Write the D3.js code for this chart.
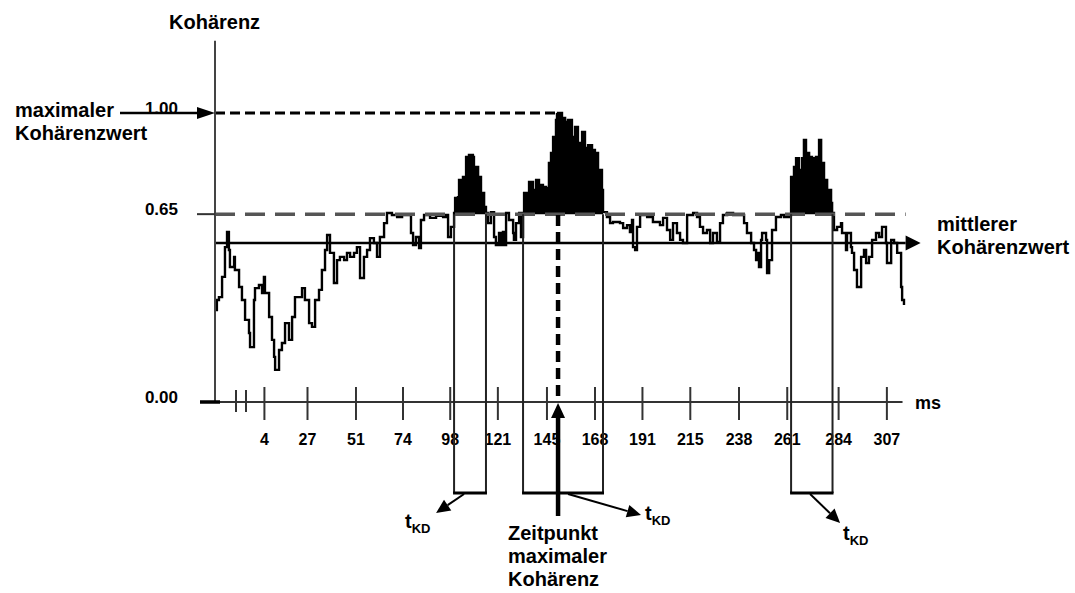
<!DOCTYPE html>
<html><head><meta charset="utf-8">
<script src="https://cdn.jsdelivr.net/npm/d3@7"></script>
<style>
body{margin:0;background:#fff;}
svg text{font-family:"Liberation Sans",Arial,sans-serif;font-weight:bold;fill:#000;}
</style></head><body>
<svg id="c" width="1075" height="593"></svg>
<script>
// ---- data ----
const timeMs = [-17.4,-16.5,-15.5,-14.0,-12.6,-11.6,-10.7,-10.2,-8.2,-7.8,-5.8,-4.4,-2.9,-1.0,-0.5,1.4,1.9,3.8,5.3,6.2,
6.7,8.7,10.1,11.1,11.6,13.5,14.9,16.4,18.3,19.8,21.2,23.1,24.6,26.0,28.0,29.4,30.9,32.8,34.2,35.7,
36.7,38.1,40.0,41.5,42.9,44.9,46.3,47.8,49.7,51.1,52.6,54.5,56.0,57.4,59.3,60.8,62.2,64.2,65.6,68.0,
70.5,72.9,75.3,77.2,78.2,79.6,81.1,82.0,83.5,86.4,89.3,92.7,94.1,95.1,96.5,98.0,
98.5,99.9,100.4,102.3,103.8,105.2,107.1,107.6,109.6,111.0,112.5,113.4,114.4,115.8,117.3,118.2,119.7,120.7,121.6,122.1,
123.1,124.5,126.5,126.9,127.9,129.4,130.3,131.3,131.8,134.2,136.1,137.6,139.0,140.9,142.4,143.8,144.8,145.8,147.2,148.2,
150.1,151.6,153.0,154.9,156.4,157.8,159.8,161.2,162.7,164.6,166.0,167.5,169.4,169.9,
171.8,173.3,174.7,178.1,179.6,181.5,182.9,183.9,184.4,185.4,186.3,187.8,191.2,194.0,197.4,198.9,200.8,202.3,203.7,205.6,
207.1,208.5,210.5,213.4,215.3,216.7,218.2,220.1,221.6,223.0,224.9,226.4,227.8,229.8,232.7,234.6,238.0,239.4,241.4,242.8,
243.8,244.3,245.2,246.2,246.7,248.6,249.1,250.1,251.5,253.4,255.8,257.3,259.7,
260.7,262.1,263.1,264.5,266.0,266.9,267.9,269.4,270.8,272.7,274.2,275.2,276.6,278.1,280.0,280.5,
281.4,282.9,284.8,285.3,287.2,287.7,289.6,290.1,291.1,292.5,294.5,295.9,296.9,298.3,299.8,301.7,303.2,304.6,306.5,307.0,
309.0,310.4,311.9,313.8,314.3,315.2];
const coherence = [0.318,0.353,0.363,0.433,0.536,0.588,0.526,0.467,0.502,0.457,0.398,0.353,0.284,0.239,0.190,0.353,0.394,0.405,0.377,0.433,
0.377,0.294,0.215,0.156,0.111,0.180,0.204,0.273,0.215,0.294,0.363,0.363,0.394,0.353,0.273,0.260,0.353,0.388,0.457,0.526,
0.578,0.516,0.412,0.491,0.502,0.491,0.516,0.502,0.516,0.536,0.429,0.502,0.526,0.567,0.550,0.502,0.571,0.619,0.654,0.647,
0.640,0.647,0.647,0.585,0.543,0.571,0.533,0.630,0.647,0.637,0.644,0.640,0.647,0.571,0.606,0.654,
0.706,0.709,0.768,0.779,0.848,0.855,0.848,0.813,0.779,0.723,0.675,0.654,0.619,0.657,0.571,0.543,0.585,0.543,0.588,0.543,
0.654,0.630,0.585,0.561,0.619,0.654,0.571,0.654,0.723,0.761,0.734,0.768,0.751,0.744,0.740,0.827,0.862,0.917,0.976,1.000,
0.983,0.969,0.976,0.917,0.952,0.896,0.934,0.879,0.889,0.872,0.862,0.803,0.734,0.657,
0.640,0.619,0.623,0.619,0.602,0.612,0.588,0.630,0.536,0.526,0.606,0.647,0.640,0.623,0.612,0.637,0.595,0.561,0.619,0.585,
0.561,0.550,0.647,0.654,0.640,0.606,0.585,0.595,0.550,0.585,0.554,0.619,0.647,0.654,0.647,0.647,0.619,0.585,0.550,0.526,
0.491,0.516,0.467,0.561,0.585,0.561,0.446,0.491,0.595,0.640,0.647,0.640,0.647,
0.779,0.813,0.844,0.803,0.844,0.907,0.862,0.848,0.844,0.848,0.907,0.827,0.768,0.734,0.689,0.654,
0.595,0.606,0.619,0.585,0.526,0.585,0.536,0.516,0.457,0.398,0.502,0.526,0.481,0.502,0.561,0.585,0.571,0.606,0.550,0.481,
0.561,0.550,0.516,0.398,0.353,0.336];
const tickMs = [6.2,27,50.4,73.1,95.9,118.9,142.6,165.8,188.7,211.8,235.3,258.6,283.4,306.7];
const tickLabels = ["4","27","51","74","98","121","145","168","191","215","238","261","284","307"];
const yTickValues = [1.0, 0.65, 0.0];
const yTickLabels = ["1.00","0.65","0.00"];
const threshold = 0.65;
const meanCoherence = 0.55;
const maxTime = 148.2, maxValue = 1.0;
const kdStart = [98.0, 131.3, 260.7];
const kdEnd = [113.4, 169.9, 280.7];

// ---- layout ----
const svg = d3.select("#c");
const x = d3.scaleLinear().domain([27, 307]).range([307, 887]);
const y = d3.scaleLinear().domain([0, 1]).range([402, 113]);
const axisX = 215, xEnd = x(316), kdBottom = 493;
const data = timeMs.map((t, i) => ({t, v: coherence[i]}));

function arrow(x1, y1, x2, y2, len, half, w) {
  const a = Math.atan2(y2 - y1, x2 - x1);
  const bx = x2 - len * Math.cos(a), by = y2 - len * Math.sin(a);
  svg.append("line").attr("x1", x1).attr("y1", y1).attr("x2", bx).attr("y2", by)
    .attr("stroke", "#000").attr("stroke-width", w);
  const px = -Math.sin(a) * half, py = Math.cos(a) * half;
  svg.append("path").attr("d", `M${x2},${y2}L${bx + px},${by + py}L${bx - px},${by - py}Z`).attr("fill", "#000");
}

// filled regions above threshold
const area = d3.area().x(d => x(d.t)).y0(y(threshold)).y1(d => y(Math.max(d.v, threshold))).curve(d3.curveStepAfter);
kdStart.forEach((s, k) => {
  const seg = data.filter(d => d.t >= s && d.t <= kdEnd[k]);
  svg.append("path").datum(seg).attr("d", area).attr("fill", "#000");
});

// curve
const line = d3.line().x(d => x(d.t)).y(d => y(d.v)).curve(d3.curveStepAfter);
svg.append("path").datum(data).attr("d", line).attr("fill", "none")
  .attr("stroke", "#000").attr("stroke-width", 2.4).attr("stroke-linejoin", "miter");

// threshold dashed line
svg.append("line").attr("x1", axisX).attr("x2", xEnd).attr("y1", y(threshold)).attr("y2", y(threshold))
  .attr("stroke", "#555").attr("stroke-width", 3.5).attr("stroke-dasharray", "20,10");

// mean line with arrow
arrow(axisX, y(meanCoherence), xEnd + 15, y(meanCoherence), 15, 7.5, 2.5);

// max dashed lines
svg.append("line").attr("x1", axisX).attr("x2", x(maxTime)).attr("y1", y(maxValue)).attr("y2", y(maxValue))
  .attr("stroke", "#000").attr("stroke-width", 3).attr("stroke-dasharray", "10,5");
svg.append("line").attr("x1", x(maxTime)).attr("x2", x(maxTime)).attr("y1", y(maxValue)).attr("y2", y(0) - 3)
  .attr("stroke", "#000").attr("stroke-width", 4.5).attr("stroke-dasharray", "11,6");

// y axis
svg.append("line").attr("x1", axisX).attr("x2", axisX).attr("y1", y(0)).attr("y2", y(1.25))
  .attr("stroke", "#444").attr("stroke-width", 2);
svg.append("line").attr("x1", 197).attr("x2", axisX).attr("y1", y(threshold)).attr("y2", y(threshold))
  .attr("stroke", "#333").attr("stroke-width", 2);
yTickValues.forEach((v, i) => {
  svg.append("text").attr("x", 178).attr("y", y(v) + 1).attr("text-anchor", "end")
    .attr("font-size", 17).text(yTickLabels[i]);
});

// x axis
svg.append("line").attr("x1", 200).attr("x2", x(314.5)).attr("y1", y(0)).attr("y2", y(0))
  .attr("stroke", "#333").attr("stroke-width", 2);
svg.append("line").attr("x1", 200).attr("x2", 220).attr("y1", y(0)).attr("y2", y(0))
  .attr("stroke", "#000").attr("stroke-width", 3.5);
[236, 246].forEach(bx => svg.append("line").attr("x1", bx).attr("x2", bx).attr("y1", y(0) - 12).attr("y2", y(0) + 10)
  .attr("stroke", "#333").attr("stroke-width", 2));
const gx = svg.append("g").attr("transform", `translate(0,${y(0)})`)
  .call(d3.axisBottom(x).tickValues(tickMs).tickFormat((d, i) => tickLabels[i]).tickSizeOuter(0));
gx.select(".domain").remove();
gx.selectAll(".tick line").attr("y1", -15).attr("y2", 18).attr("stroke", "#333").attr("stroke-width", 2);
gx.selectAll(".tick text").attr("y", 43).attr("dy", null)
  .style("font-family", "'Liberation Sans',Arial,sans-serif").style("font-weight", "bold").style("font-size", "16px").attr("fill", "#000");
svg.append("text").attr("x", 915).attr("y", 409).attr("font-size", 18).text("ms");

// KD rectangles
kdStart.forEach((s, k) => {
  const x0 = x(s), x1 = x(kdEnd[k]);
  [x0, x1].forEach(xx => svg.append("line").attr("x1", xx).attr("x2", xx).attr("y1", y(threshold)).attr("y2", kdBottom)
    .attr("stroke", "#222").attr("stroke-width", 2));
  svg.append("line").attr("x1", x0 - 1).attr("x2", x1 + 1).attr("y1", kdBottom).attr("y2", kdBottom)
    .attr("stroke", "#000").attr("stroke-width", 3);
});

// Zeitpunkt arrow
arrow(x(maxTime), 516, x(maxTime), y(0) + 1, 15, 7, 4.5);

// t_KD arrows
arrow(x(kdStart[0]) + 10, kdBottom + 1, x(kdStart[0]) - 18, 513, 14, 6.5, 2);
arrow(x(maxTime) + 10, kdBottom + 1, x(kdEnd[1]) + 38, 515, 14, 6.5, 2);
arrow(x(kdStart[2]) + 19, kdBottom + 1, x(kdStart[2]) + 49, 523, 14, 6.5, 2);

function tkd(tx, ty) {
  const t = svg.append("text").attr("x", tx).attr("y", ty).attr("font-size", 20).text("t");
  t.append("tspan").attr("font-size", 13).attr("dy", 5).text("KD");
}
tkd(405, 528);
tkd(645, 520);
tkd(843, 540);

// labels
svg.append("text").attr("x", 169).attr("y", 29).attr("font-size", 20).text("Kohärenz");
svg.append("text").attr("x", 15).attr("y", 117).attr("font-size", 20).text("maximaler");
svg.append("text").attr("x", 15).attr("y", 140).attr("font-size", 20).text("Kohärenzwert");
arrow(120, y(maxValue), axisX, y(maxValue), 18, 6, 2.5);
svg.append("text").attr("x", 937).attr("y", 231).attr("font-size", 20).text("mittlerer");
svg.append("text").attr("x", 937).attr("y", 254).attr("font-size", 20).text("Kohärenzwert");
["Zeitpunkt", "maximaler", "Kohärenz"].forEach((s, i) =>
  svg.append("text").attr("x", 508).attr("y", 540 + i * 23).attr("font-size", 20).text(s));
</script>
</body></html>
